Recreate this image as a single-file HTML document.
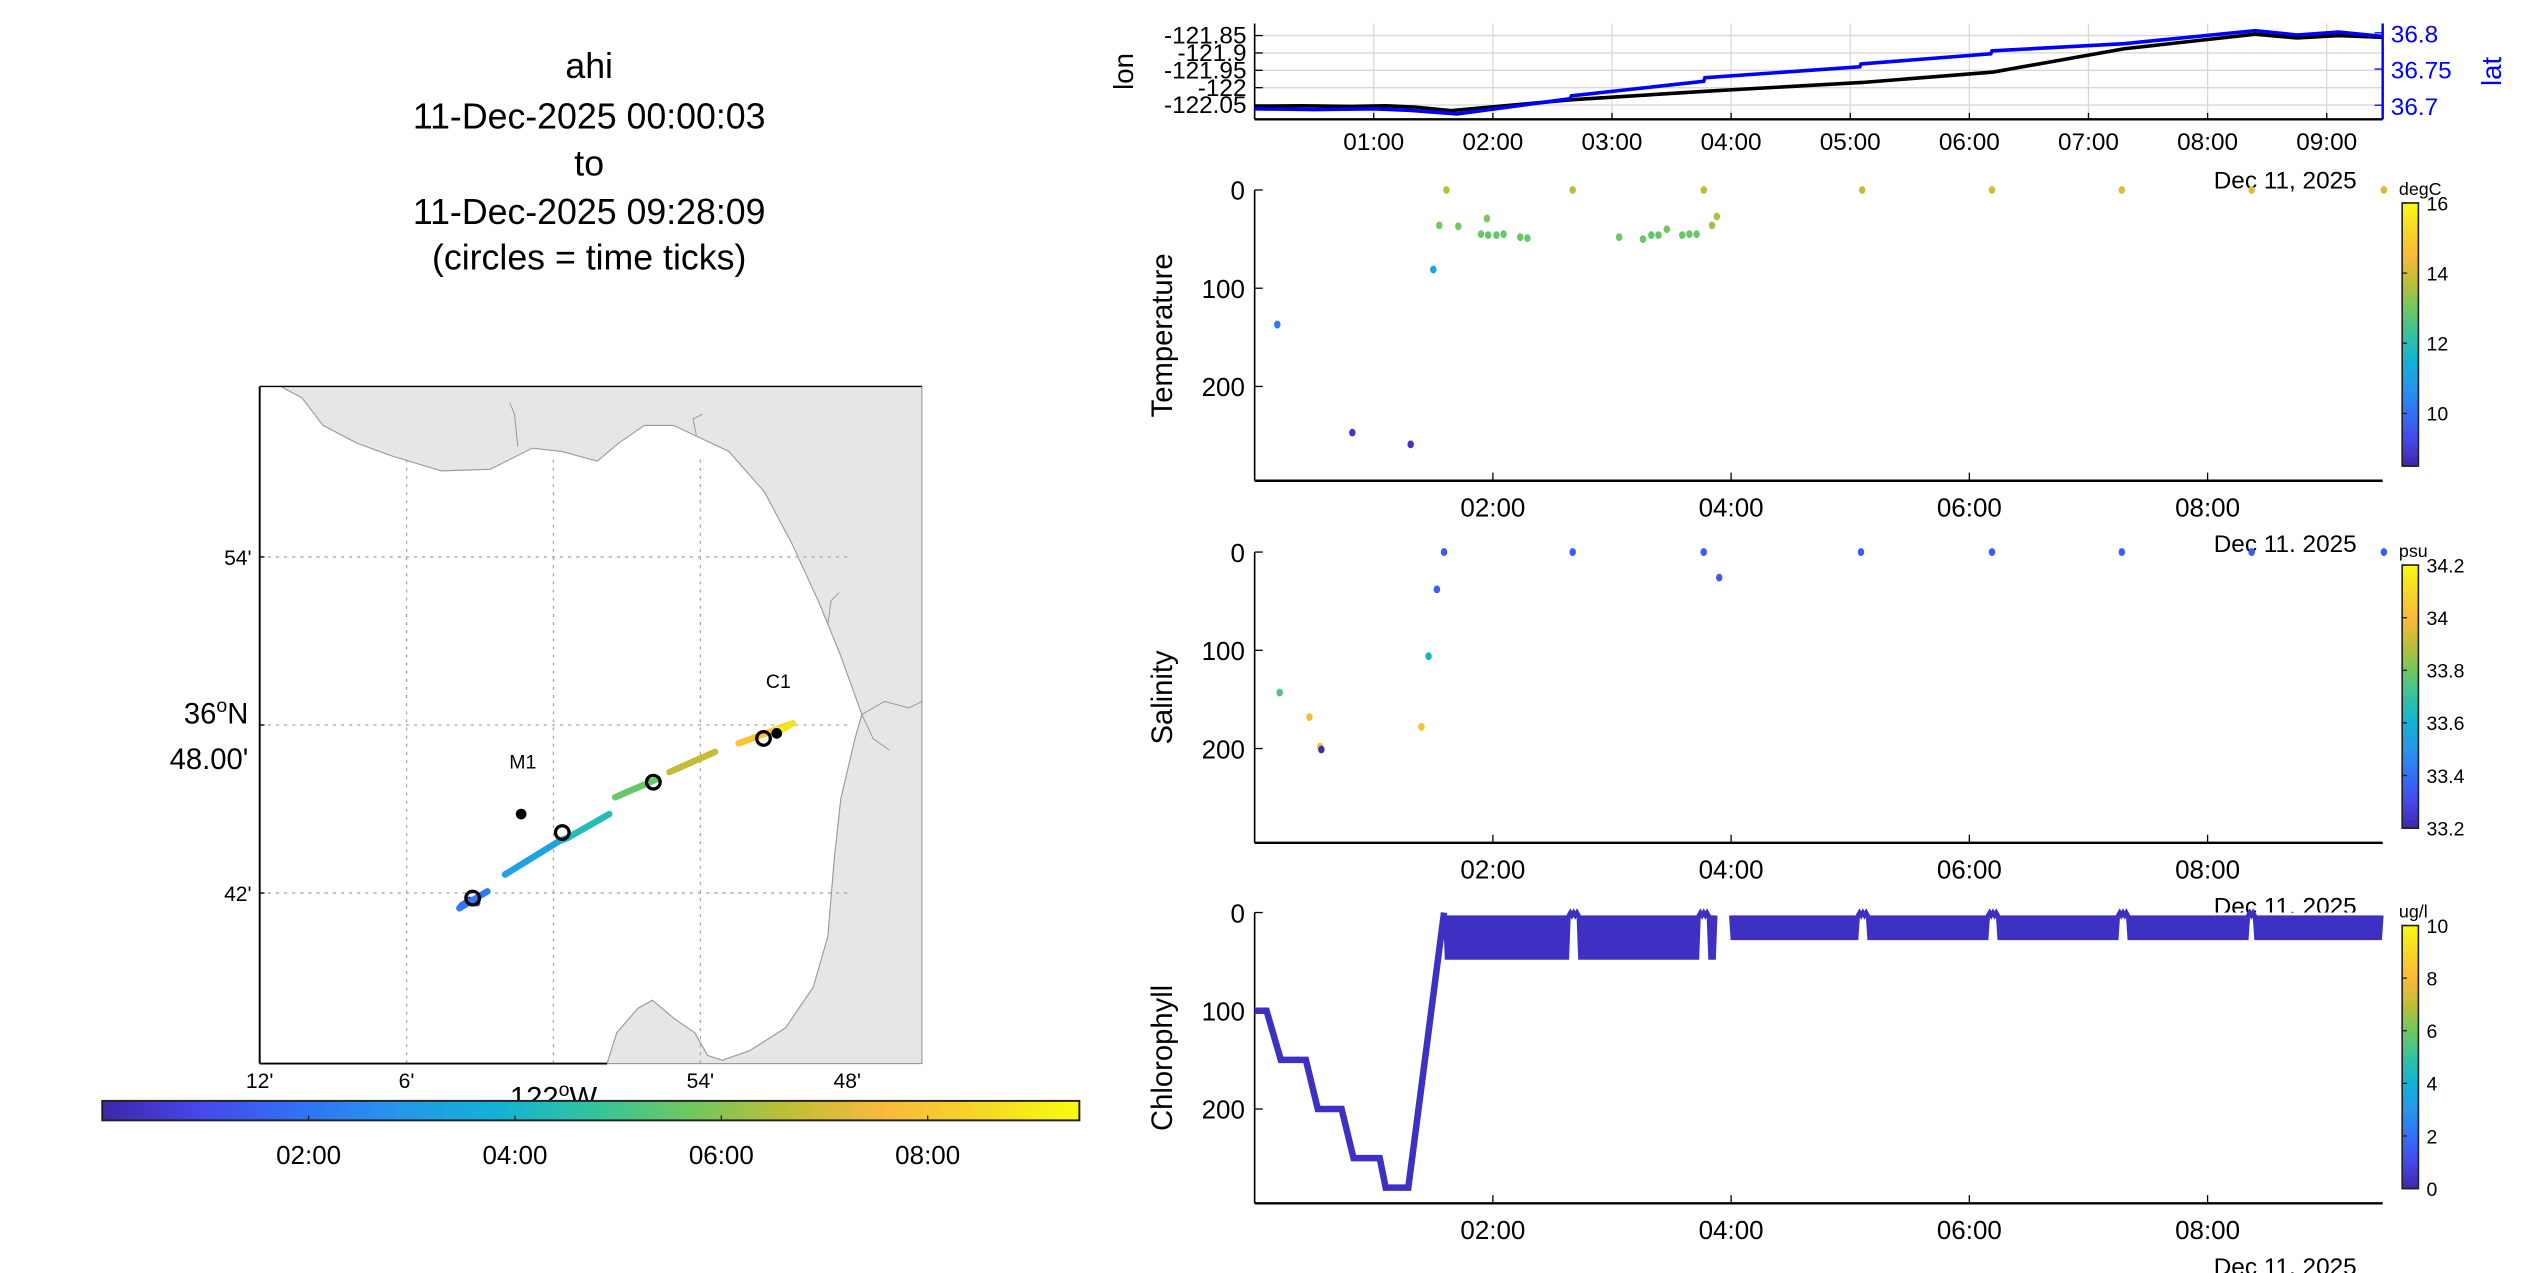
<!DOCTYPE html>
<html><head><meta charset="utf-8"><style>
html,body{margin:0;padding:0;background:#fff;}
svg{display:block;font-family:"Liberation Sans",Arial,sans-serif;}
</style></head><body>
<svg id="fig" width="2545" height="1273" viewBox="0 0 1568 784" preserveAspectRatio="none" xmlns="http://www.w3.org/2000/svg">
<rect width="1568" height="784" fill="#fff"/>
<g font-size="22" text-anchor="middle" fill="#000">
<text x="363" y="48">ahi</text>
<text x="363" y="79">11-Dec-2025 00:00:03</text>
<text x="363" y="108">to</text>
<text x="363" y="138">11-Dec-2025 09:28:09</text>
<text x="363" y="166">(circles = time ticks)</text>
</g>
<g id="map"></g>
<g id="mapcb"></g>
<g id="lonlat"></g>
<g id="temp"></g>
<g id="sal"></g>
<g id="chl"></g>
</svg>
<script>
// ---------- data ----------
const hourTicks = [1,2,3,4,5,6,7,8,9];
const hourLabels = ["01:00","02:00","03:00","04:00","05:00","06:00","07:00","08:00","09:00"];
const panelTicks = [2,4,6,8];
const panelTickLabels = ["02:00","04:00","06:00","08:00"];
const lonTickVals = [-121.85,-121.9,-121.95,-122,-122.05];
const lonTickLabels = ["-121.85","-121.9","-121.95","-122","-122.05"];
const latTickVals = [36.8,36.75,36.7];
const latTickLabels = ["36.8","36.75","36.7"];
const lonT = [0,0.4,0.8,1.1,1.35,1.65,2.65,3.8,5.1,6.2,7.3,8.4,8.75,9.1,9.47];
const lonV = [-122.053,-122.052,-122.054,-122.052,-122.056,-122.066,-122.035,-122.01,-121.985,-121.955,-121.888,-121.846,-121.857,-121.85,-121.855];
const latT = [0,0.5,1.0,1.3,1.7,2.65,2.66,3.77,3.78,5.08,5.09,6.18,6.19,7.3,8.4,8.75,9.1,9.47];
const latV = [36.695,36.694,36.695,36.693,36.688,36.709,36.713,36.733,36.738,36.753,36.757,36.771,36.775,36.785,36.803,36.797,36.801,36.795];

const tempT = [0.19,0.82,1.31,1.50,1.55,1.61,1.71,1.95,1.90,1.96,2.03,2.09,2.23,2.29,2.67,3.06,3.26,3.33,3.39,3.46,3.59,3.65,3.71,3.77,3.84,3.88,5.10,6.19,7.28,8.37,9.48];
const tempD = [137,247,259,81,36,0,37,29,45,46,46,45,48,49,0,48,50,46,46,40,46,45,45,0,36,27,0,0,0,0,0];
const tempV = [10.2,8.9,8.8,11.2,13.1,13.7,13.1,13.2,12.9,12.9,12.9,12.9,12.9,12.9,13.7,12.9,12.9,12.9,12.9,13.0,12.9,12.9,12.9,13.7,13.4,13.6,13.8,14.0,14.1,14.1,14.1];

const salT = [0.21,0.46,0.55,0.56,1.40,1.46,1.53,1.59,2.67,3.77,3.90,5.09,6.19,7.28,8.37,9.48];
const salD = [143,168,198,201,178,106,38,0,0,0,26,0,0,0,0,0];
const salV = [33.75,34.0,34.05,33.22,34.02,33.62,33.35,33.35,33.35,33.35,33.35,33.35,33.35,33.35,33.35,33.35];

const chlProfT = [0,0.10,0.22,0.43,0.53,0.73,0.83,1.05,1.10,1.29,1.59];
const chlProfD = [100,100,150,150,200,200,250,250,280,280,0];
const yoStart = [1.6,4.0];
const yoEnd = [3.87,9.47];
const yoDepth = [48,28];
const surfaceT = [2.68,3.78,5.1,6.19,7.28,8.37];

const trackT = [0,0.6,1.2,1.6,1.7,2.6,null,2.75,3.75,3.8,4.9,null,5.1,6.1,null,6.25,7.2,null,7.45,8.4,9.2,9.47];
const trackLon = [-122.057,-122.052,-122.058,-122.062,-122.064,-122.045,null,-122.033,-121.996,-121.99,-121.962,null,-121.958,-121.929,null,-121.921,-121.89,null,-121.874,-121.837,-121.845,-121.848];
const trackLat = [36.696,36.694,36.695,36.693,36.691,36.701,null,36.711,36.731,36.733,36.747,null,36.757,36.768,null,36.772,36.784,null,36.789,36.801,36.797,36.797];
const circleT = ["00:00","02:00","05:10","08:10"];
const circleLon = [-122.055,-121.994,-121.932,-121.857];
const circleLat = [36.697,36.736,36.766,36.792];
const stationNames = ["M1","C1"];
const stationLon = [-122.022,-121.848];
const stationLat = [36.747,36.795];
const mapLonTicks = [-122.2,-122.1,-122.0,-121.9,-121.8];
const mapLonLabels = ["12'","6'","122°W","54'","48'"];
const mapLatTicks = [36.9,36.8,36.7];
const mapLatLabels = ["54'","48.00'","42'"];

// ---------- helpers ----------
const NS="http://www.w3.org/2000/svg";
function mk(parent,tag,attrs,text){const e=document.createElementNS(NS,tag);for(const k in attrs)e.setAttribute(k,attrs[k]);if(text!==undefined)e.textContent=text;parent.appendChild(e);return e;}
const stops=[[0,[62,38,168]],[0.1,[71,71,235]],[0.2,[50,112,245]],[0.3,[39,150,235]],[0.4,[18,177,214]],[0.5,[50,195,160]],[0.6,[110,200,95]],[0.7,[190,190,55]],[0.8,[250,185,60]],[0.9,[245,215,40]],[1,[249,251,14]]];
function parula(f){f=Math.max(0,Math.min(1,f));for(let i=1;i<stops.length;i++){if(f<=stops[i][0]){const a=stops[i-1],b=stops[i];const u=(f-a[0])/(b[0]-a[0]);const c=a[1].map((v,j)=>Math.round(v+(b[1][j]-v)*u));return `rgb(${c.join(',')})`;}}return 'rgb(249,251,14)';}
const X0=773,X1=1468,TMAX=9.47;
function xT(t){return X0+(X1-X0)*t/TMAX;}

// ---------- lon/lat panel ----------
(function(){
const g=document.getElementById('lonlat');
const top=14.5,bot=73.5;
const yLon=v=>21.9+(-121.85-v)/0.05*10.7;
const yLat=v=>20.2+(36.8-v)/0.05*22.3;
hourTicks.forEach((h,i)=>{
 const l=mk(g,'line',{x1:xT(h),x2:xT(h),y1:top,y2:bot,stroke:'#d8d8d8','stroke-width':0.8});
 
 mk(g,'line',{x1:xT(h),x2:xT(h),y1:bot,y2:bot-4,stroke:'#000','stroke-width':0.8});
 const t=mk(g,'text',{x:xT(h),y:bot+19,'font-size':15,'text-anchor':'middle'},hourLabels[i]);
 
});
lonTickVals.forEach((v,i)=>{
 mk(g,'line',{x1:X0,x2:X1,y1:yLon(v),y2:yLon(v),stroke:'#d8d8d8','stroke-width':0.8});
 mk(g,'line',{x1:X0,x2:X0+5,y1:yLon(v),y2:yLon(v),stroke:'#000','stroke-width':0.8});
 const t=mk(g,'text',{x:768,y:yLon(v)+5,'font-size':15,'text-anchor':'end'},lonTickLabels[i]);
 
});
latTickVals.forEach((v,i)=>{
 mk(g,'line',{x1:X1-5,x2:X1,y1:yLat(v),y2:yLat(v),stroke:'#00f','stroke-width':0.8});
 const t=mk(g,'text',{x:1473,y:yLat(v)+6,'font-size':15,fill:'#00f'},latTickLabels[i]);
 
});
mk(g,'line',{x1:X0,x2:X0,y1:top,y2:bot,stroke:'#000','stroke-width':1});
mk(g,'line',{x1:X0,x2:X1,y1:bot,y2:bot,stroke:'#000','stroke-width':1.5});
mk(g,'line',{x1:X1,x2:X1,y1:top,y2:bot,stroke:'#00f','stroke-width':1.5});
const pl=mk(g,'polyline',{points:lonT.map((t,i)=>xT(t)+','+yLon(lonV[i])).join(' '),fill:'none',stroke:'#000','stroke-width':2.2});

const pb=mk(g,'polyline',{points:latT.map((t,i)=>xT(t)+','+yLat(latV[i])).join(' '),fill:'none',stroke:'#00f','stroke-width':2.2});

const a=mk(g,'text',{x:0,y:0,'font-size':17,'text-anchor':'middle',transform:'translate(698,44) rotate(-90)'},'lon');

const b=mk(g,'text',{x:0,y:0,'font-size':17,'text-anchor':'middle',fill:'#00f',transform:'translate(1541,44) rotate(-90)'},'lat');

const d=mk(g,'text',{x:1452,y:116,'font-size':15,'text-anchor':'end'},'Dec 11, 2025');

})();

// ---------- scatter/depth panels ----------
function depthPanel(id,y0,title,unit,cbTicks,cbLabels,cbMin,cbMax,drawFn,cover){
 const g=document.getElementById(id);
 const yD=d=>y0+d*60.5/100;
 const bot=yD(296);
 if(cover) mk(g,'rect',{x:X0,y:y0,width:X1-X0,height:bot-y0,fill:'#fff'});
 mk(g,'line',{x1:X0,x2:X0,y1:y0,y2:bot,stroke:'#000','stroke-width':1});
 mk(g,'line',{x1:X0,x2:X1,y1:bot,y2:bot,stroke:'#000','stroke-width':1.5});
 [0,100,200].forEach(v=>{
  mk(g,'line',{x1:X0,x2:X0+5,y1:yD(v),y2:yD(v),stroke:'#000','stroke-width':0.8});
  const t=mk(g,'text',{x:767,y:yD(v)+6,'font-size':16,'text-anchor':'end'},String(v));
  
 });
 panelTicks.forEach((h,i)=>{
  mk(g,'line',{x1:xT(h),x2:xT(h),y1:bot,y2:bot-5,stroke:'#000','stroke-width':0.8});
  const t=mk(g,'text',{x:xT(h),y:bot+22,'font-size':16,'text-anchor':'middle'},panelTickLabels[i]);
  
 });
 const d=mk(g,'text',{x:1452,y:bot+44,'font-size':15,'text-anchor':'end'},'Dec 11, 2025');
 
 const a=mk(g,'text',{x:0,y:0,'font-size':18,'text-anchor':'middle',transform:`translate(722,${(y0+bot)/2}) rotate(-90)`},title);
 
 const cbTop=y0+8,cbBot=y0+170,cx=1480,cw=10;
 for(let i=0;i<60;i++){const f0=i/60;mk(g,'rect',{x:cx,y:cbBot-(i+1)*(cbBot-cbTop)/60,width:cw,height:(cbBot-cbTop)/60+0.5,fill:parula(f0+0.008)});}
 const cb=mk(g,'rect',{x:cx,y:cbTop,width:cw,height:cbBot-cbTop,fill:'none',stroke:'#222','stroke-width':1});
 
 cbTicks.forEach((v,i)=>{
  const yy=cbBot-(v-cbMin)/(cbMax-cbMin)*(cbBot-cbTop);
  mk(g,'line',{x1:cx,x2:cx+3,y1:yy,y2:yy,stroke:'#222','stroke-width':0.8});
  const t=mk(g,'text',{x:cx+15,y:yy+4.5,'font-size':12},cbLabels[i]);
  
 });
 const u=mk(g,'text',{x:cx-2,y:y0+3,'font-size':11},unit);
 
 drawFn(g,yD,v=>parula((v-cbMin)/(cbMax-cbMin)));
}
const tempCbTicks=[10,12,14,16],tempCbLabels=["10","12","14","16"];
depthPanel('temp',117,'Temperature','degC',tempCbTicks,tempCbLabels,8.5,16,(g,yD,col)=>{
 tempT.forEach((t,i)=>{const c=mk(g,'ellipse',{cx:xT(t),cy:yD(tempD[i]),rx:2,ry:2.4,fill:col(tempV[i])});
 });
},false);
const salCbTicks=[33.2,33.4,33.6,33.8,34,34.2],salCbLabels=["33.2","33.4","33.6","33.8","34","34.2"];
depthPanel('sal',340,'Salinity','psu',salCbTicks,salCbLabels,33.2,34.2,(g,yD,col)=>{
 salT.forEach((t,i)=>{const c=mk(g,'ellipse',{cx:xT(t),cy:yD(salD[i]),rx:2,ry:2.4,fill:col(salV[i])});
 });
},true);
const chlCbTicks=[0,2,4,6,8,10],chlCbLabels=["0","2","4","6","8","10"];
depthPanel('chl',562,'Chlorophyll','ug/l',chlCbTicks,chlCbLabels,0,10,(g,yD,col)=>{
 const c='rgb(62,48,195)';
 const p=mk(g,'polyline',{points:chlProfT.map((t,i)=>xT(t)+','+yD(chlProfD[i])).join(' '),fill:'none',stroke:c,'stroke-width':4});
 
 yoStart.forEach((s,k)=>{
  const pts=[];const per=0.028;
  for(let t=s;t<=yoEnd[k];t+=per/2){
   const up=Math.round((t-s)/(per/2))%2===0;
   let dd=up?0:yoDepth[k];
   if(!up && surfaceT.some(st=>Math.abs(st-t)<0.04)) dd=0;
   pts.push(xT(t)+','+yD(dd+(up?3:0)));
  }
  const y=mk(g,'polyline',{points:pts.join(' '),fill:'none',stroke:c,'stroke-width':2.6});
  
 });
},true);

// ---------- map ----------
(function(){
const g=document.getElementById('map');
const L=160,R=568,T=238,B=655;
const mx=lon=>L+(lon+122.2)*905;
const my=lat=>550-(lat-36.7)*1035;
mk(g,'rect',{x:L,y:T,width:R-L,height:B-T,fill:'#fff'});
const land=[[173,238],[186,245],[199,262],[220,273],[242,281],[272,290],[302,289],[328,276],[346,278],[368,284],[381,273],[397,262],[415,262],[449,278],[471,303],[488,335],[505,372],[518,404],[527,429],[531,440],[527,454],[518,492],[514,529],[510,577],[501,608],[484,633],[462,647],[445,653],[436,650],[428,636],[415,627],[402,616],[393,621],[380,636],[374,655],[568,655],[568,238]];
const lp=mk(g,'polygon',{points:land.map(p=>p.join(',')).join(' '),fill:'#e6e6e6',stroke:'#9a9a9a','stroke-width':0.7});

mk(g,'polyline',{points:'531,440 545,432 560,436 568,432',fill:'none',stroke:'#999','stroke-width':0.6});
mk(g,'polyline',{points:'531,440 538,455 548,462',fill:'none',stroke:'#999','stroke-width':0.6});
mk(g,'polyline',{points:'319,275 317,255 314,248',fill:'none',stroke:'#999','stroke-width':0.6});
mk(g,'polyline',{points:'429,268 427,258 433,255',fill:'none',stroke:'#999','stroke-width':0.6});
mk(g,'polyline',{points:'510,385 512,370 517,365',fill:'none',stroke:'#999','stroke-width':0.6});
mapLonTicks.forEach((v,i)=>{
 if(i>0&&i<4)mk(g,'line',{x1:mx(v),x2:mx(v),y1:T+45,y2:B,stroke:'#aaa','stroke-width':0.8,'stroke-dasharray':'2,3'});
 const t=mk(g,'text',{x:mx(v),y:B+15,'font-size':i==2?18:13,'text-anchor':'middle'},mapLonLabels[i]);
 if(i==2){t.setAttribute('y',B+27);t.textContent='122';mk(t,'tspan',{dy:-7,'font-size':12},'o');mk(t,'tspan',{dy:7},'W');}
 
});
mapLatTicks.forEach((v,i)=>{
 mk(g,'line',{x1:L,x2:R-45,y1:my(v),y2:my(v),stroke:'#aaa','stroke-width':0.8,'stroke-dasharray':'2,3'});
 mk(g,'line',{x1:L,x2:L+3,y1:my(v),y2:my(v),stroke:'#000','stroke-width':0.8});
 if(i==1){
  const t=mk(g,'text',{x:153,y:my(v)-1,'font-size':18,'text-anchor':'end'},'36');
  mk(t,'tspan',{dy:-7,'font-size':12},'o');mk(t,'tspan',{dy:7},'N');
  
  const t2=mk(g,'text',{x:153,y:my(v)+27,'font-size':18,'text-anchor':'end'},mapLatLabels[i]);
  
 } else {
  const t=mk(g,'text',{x:155,y:my(v)+5,'font-size':13,'text-anchor':'end'},mapLatLabels[i]);
  
 }
});
mk(g,'line',{x1:L,x2:L,y1:T,y2:B,stroke:'#000','stroke-width':1.2});
mk(g,'line',{x1:L,x2:374,y1:B,y2:B,stroke:'#000','stroke-width':1.2});
mk(g,'line',{x1:L,x2:R,y1:T,y2:T,stroke:'#000','stroke-width':0.8});
for(let i=1;i<trackT.length;i++){
 if(trackT[i]===null||trackT[i-1]===null)continue;
 const s=mk(g,'line',{x1:mx(trackLon[i-1]),y1:my(trackLat[i-1]),x2:mx(trackLon[i]),y2:my(trackLat[i]),stroke:parula((trackT[i-1]+trackT[i])/2/TMAX),'stroke-width':4,'stroke-linecap':'round'});
 
}
circleT.forEach((c,i)=>{const e=mk(g,'circle',{cx:mx(circleLon[i]),cy:my(circleLat[i]),r:4.2,fill:'none',stroke:'#000','stroke-width':2});
 });
stationNames.forEach((n,i)=>{
 const d=mk(g,'circle',{cx:mx(stationLon[i]),cy:my(stationLat[i]),r:3.3,fill:'#000'});
 
 const t=mk(g,'text',{x:mx(stationLon[i])+1,y:my(stationLat[i])-28,'font-size':12,'text-anchor':'middle'},n);
 
});
})();

// ---------- map colorbar ----------
(function(){
const g=document.getElementById('mapcb');
const L=63,R=665,T=678,B=690;
for(let i=0;i<120;i++){mk(g,'rect',{x:L+i*(R-L)/120,y:T,width:(R-L)/120+0.5,height:B-T,fill:parula((i+0.5)/120)});}
mk(g,'rect',{x:L,y:T,width:R-L,height:B-T,fill:'none',stroke:'#222','stroke-width':1.2});
panelTicks.forEach((h,i)=>{
 const x=L+(R-L)*h/TMAX;
 mk(g,'line',{x1:x,x2:x,y1:B,y2:B-3,stroke:'#222','stroke-width':0.8});
 const t=mk(g,'text',{x:x,y:B+27,'font-size':16,'text-anchor':'middle'},panelTickLabels[i]);
 
});
})();
</script>
</body></html>
